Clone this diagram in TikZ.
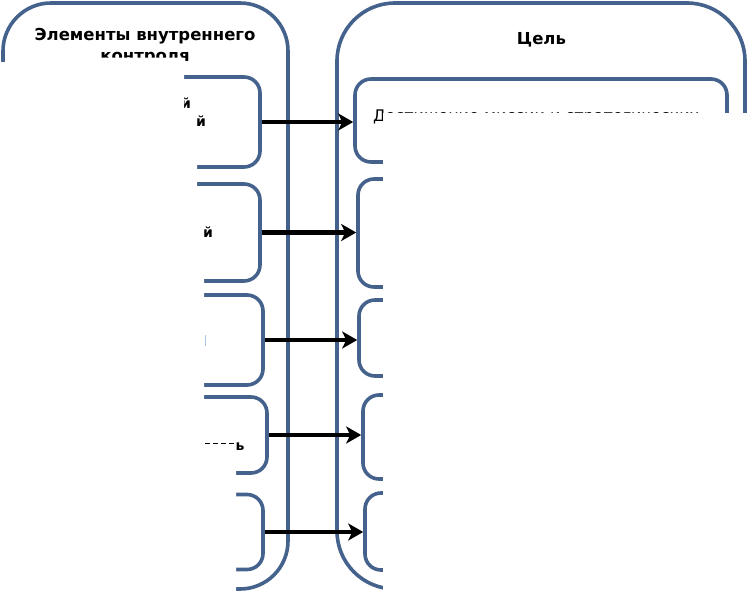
\documentclass[tikz,border=0pt]{standalone}
\usepackage{fontspec}
\setmainfont{DejaVu Sans}
\usetikzlibrary{arrows.meta}
\definecolor{frame}{RGB}{68,98,140}
\definecolor{tick}{RGB}{170,200,230}
\tikzset{
  container/.style={draw=frame, line width=3.6pt, inner sep=0pt},
  itembox/.style={draw=frame, line width=3.6pt, rounded corners=16pt, inner sep=0pt},
  conn/.style={line width=4.5pt, -{Stealth[length=15pt,width=17pt,inset=4pt]}},
  title/.style={font=\bfseries\fontsize{16.5}{19}\selectfont, anchor=base, inner sep=0pt},
  body/.style={font=\fontsize{16}{19}\selectfont, anchor=base west, inner sep=0pt},
  frag/.style={font=\bfseries\fontsize{14}{16}\selectfont, inner sep=0pt},
  occluder/.style={fill=white, draw=none}
}
\begin{document}
\begin{tikzpicture}[x=1pt,y=-1pt]
\useasboundingbox (0,0) rectangle (748,592);
% containers
\node[container, rounded corners=48pt, minimum width=285pt, minimum height=586pt] (LC) at (145.5,296) {};
\node[container, rounded corners=58pt, minimum width=408pt, minimum height=586pt] (RC) at (541,296) {};
% titles
\node[title] (LT1) at (145,40) {Элементы внутреннего};
\node[title] (LT2) at (145,61) {контроля};
\node[title] (RT) at (541.5,44) {Цель};
% left boxes
\node[itembox, minimum width=240pt, minimum height=90pt] (L1) at (140,122) {};
\node[itembox, minimum width=240pt, minimum height=97pt] (L2) at (140,232.5) {};
\node[itembox, minimum width=243pt, minimum height=90pt] (L3) at (141.5,340) {};
\node[itembox, minimum width=247pt, minimum height=76pt] (L4) at (143.5,435) {};
\node[itembox, minimum width=243pt, minimum height=75pt] (L5) at (141.5,532) {};
% right boxes
\node[itembox, minimum width=372pt, minimum height=83pt] (R1) at (541,120.5) {};
\node[itembox, minimum width=369pt, minimum height=108pt] (R2) at (542.5,233) {};
\node[itembox, minimum width=368pt, minimum height=76pt] (R3) at (543,338) {};
\node[itembox, minimum width=364pt, minimum height=84pt] (R4) at (545,437) {};
\node[itembox, minimum width=362pt, minimum height=77pt] (R5) at (546,531.5) {};
% text
\node[body] (R1t) at (373,121) {Достижение миссии и стратегических};
\node[frag] (f1) at (186,103) {й};
\node[frag] (f2) at (201,121) {й};
\node[frag] (f3) at (208,232) {й};
\node[frag] (f4) at (240,447) {ь};
\draw[black, line width=0.9pt, dash pattern=on 5pt off 3pt] (205,443) -- (234,443);
\draw[tick, line width=1pt] (205,335) -- (205,346);
% arrows
\draw[conn] (L1.east) -- (L1.east -| R1.west);
\draw[conn] (L2.east) -- (L2.east -| R2.west);
\draw[conn] (L3.east) -- (L3.east -| R3.west);
\draw[conn] (L4.east) -- (L4.east -| R4.west);
\draw[conn] (L5.east) -- (L5.east -| R5.west);
% occluding white areas
\fill[occluder] (0,62) -- (8,62) -- (8,57.5) -- (184,57.5) -- (184,112) -- (197,112) -- (197,190) -- (204,190) -- (204,462) -- (236,462) -- (236,592) -- (0,592) -- cycle;
\fill[occluder] (383,113) rectangle (748,592);
\end{tikzpicture}
\end{document}
